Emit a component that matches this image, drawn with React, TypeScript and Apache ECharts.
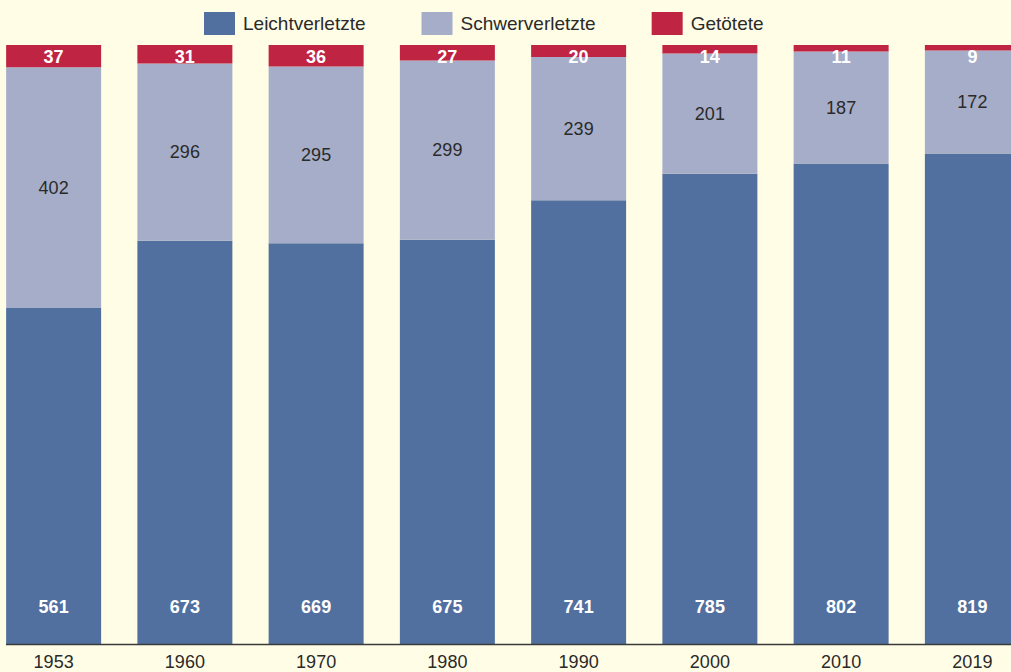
import React, { useEffect, useRef } from "react";
import * as echarts from "echarts";

const years = ["1953", "1960", "1970", "1980", "1990", "2000", "2010", "2019"];
const leicht = [561, 673, 669, 675, 741, 785, 802, 819];
const schwer = [402, 296, 295, 299, 239, 201, 187, 172];
const getoetet = [37, 31, 36, 27, 20, 14, 11, 9];

const FONT = "'Liberation Sans', Arial, Helvetica, sans-serif";
const SHIFT = 12;

export default function App() {
  const ref = useRef<HTMLDivElement>(null);
  useEffect(() => {
    document.body.style.margin = "0";
    const chart = echarts.init(ref.current!, null, { renderer: "svg" });
    chart.setOption({
      animation: false,
      backgroundColor: "#fffde6",
      textStyle: { fontFamily: FONT },
      legend: {
        left: 204 + SHIFT,
        top: 12,
        padding: 0,
        itemWidth: 31,
        itemHeight: 23,
        itemGap: 56,
        icon: "rect",
        textStyle: { fontSize: 19, color: "#2a2a2a", fontFamily: FONT, padding: [0, 0, 0, 3] },
        data: ["Leichtverletzte", "Schwerverletzte", "Getötete"],
      },
      grid: { left: 0, right: 0, top: 45, bottom: 28 },
      xAxis: {
        type: "category",
        data: years,
        axisLine: { show: false },
        axisTick: { show: false },
        axisLabel: { fontSize: 18, color: "#2a2a2a", margin: 9, fontFamily: FONT },
      },
      yAxis: {
        type: "value",
        min: 0,
        max: 1000,
        show: false,
        splitLine: { show: false },
      },
      graphic: [
        {
          type: "line",
          shape: { x1: 6 + SHIFT, y1: 644.5, x2: 1011 + SHIFT + 30, y2: 644.5 },
          style: { stroke: "#3a3a3a", lineWidth: 1.5 },
          z: 100,
        },
      ],
      series: [
        {
          name: "Leichtverletzte",
          type: "bar",
          stack: "s",
          barWidth: 95,
          data: leicht,
          itemStyle: { color: "#52709f" },
          label: {
            show: true,
            position: "insideBottom",
            distance: 28,
            color: "#ffffff",
            fontWeight: "bold",
            fontSize: 18,
            fontFamily: FONT,
          },
        },
        {
          name: "Schwerverletzte",
          type: "bar",
          stack: "s",
          barWidth: 95,
          data: schwer,
          itemStyle: { color: "#a6adc8" },
          label: {
            show: true,
            position: "inside",
            color: "#2a2a2a",
            fontSize: 18,
            fontFamily: FONT,
          },
        },
        {
          name: "Getötete",
          type: "bar",
          stack: "s",
          barWidth: 95,
          data: getoetet,
          itemStyle: { color: "#c02443" },
          label: {
            show: true,
            position: "insideTop",
            distance: 3,
            color: "#ffffff",
            fontWeight: "bold",
            fontSize: 18,
            fontFamily: FONT,
          },
        },
      ],
    });
    return () => chart.dispose();
  }, []);
  return (
    <div style={{ width: 1011, height: 672, overflow: "hidden", position: "relative", background: "#fffde6" }}>
      <div ref={ref} style={{ width: 1050, height: 672, position: "absolute", left: -SHIFT, top: 0 }} />
    </div>
  );
}
